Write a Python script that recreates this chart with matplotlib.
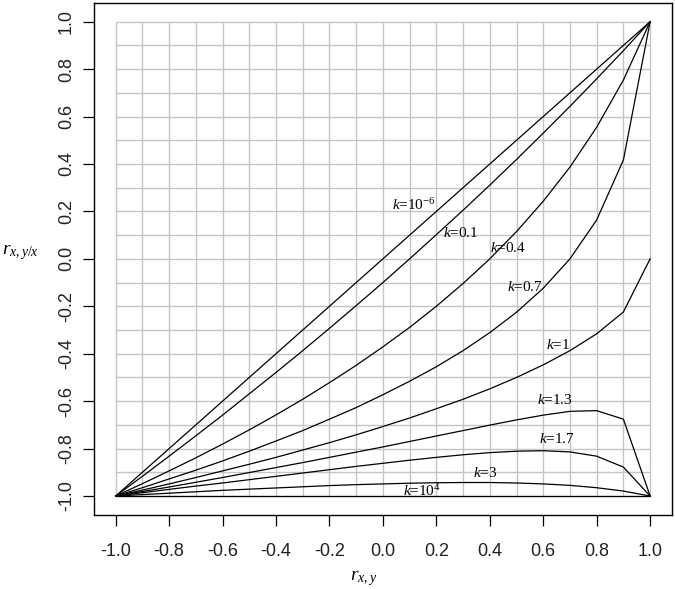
import numpy as np
import matplotlib
matplotlib.use("Agg")
import matplotlib.pyplot as plt

plt.rcParams['mathtext.fontset'] = 'custom'
plt.rcParams['mathtext.rm'] = 'Liberation Serif'
plt.rcParams['mathtext.it'] = 'Liberation Serif:italic'
plt.rcParams['mathtext.bf'] = 'Liberation Serif:bold'

# r_{x,y} sample points
r_xy = [-1.0, -0.9, -0.8, -0.7, -0.6, -0.5, -0.4, -0.3, -0.2, -0.1, 0.0,
        0.1, 0.2, 0.3, 0.4, 0.5, 0.6, 0.7, 0.8, 0.9, 1.0]

# r_{x,y/x} curves for each k
k_1e_6 = [-1.0, -0.9, -0.8, -0.7, -0.6, -0.5, -0.4, -0.3, -0.2, -0.1, 0.0,
          0.1, 0.2, 0.3, 0.4, 0.5, 0.6, 0.7, 0.8, 0.9, 1.0]
k_0_1 = [-1.0, -0.917, -0.832, -0.746, -0.659, -0.569, -0.479, -0.387, -0.293, -0.197, -0.100,
         0.0, 0.102, 0.205, 0.311, 0.419, 0.530, 0.643, 0.759, 0.878, 1.0]
k_0_4 = [-1.0, -0.948, -0.894, -0.839, -0.781, -0.721, -0.658, -0.592, -0.522, -0.449, -0.371,
         -0.289, -0.200, -0.104, 0.0, 0.115, 0.243, 0.387, 0.555, 0.754, 1.0]
k_0_7 = [-1.0, -0.965, -0.928, -0.891, -0.852, -0.811, -0.768, -0.724, -0.676, -0.627, -0.573,
         -0.516, -0.455, -0.387, -0.311, -0.225, -0.124, 0.0, 0.164, 0.417, 1.0]
k_1 = [-1.0, -0.975, -0.949, -0.922, -0.894, -0.866, -0.837, -0.806, -0.775, -0.742, -0.707,
       -0.671, -0.632, -0.592, -0.548, -0.500, -0.447, -0.387, -0.316, -0.224, 0.0]
k_1_3 = [-1.0, -0.981, -0.962, -0.942, -0.922, -0.901, -0.880, -0.859, -0.837, -0.815, -0.793,
         -0.770, -0.747, -0.724, -0.701, -0.679, -0.659, -0.643, -0.640, -0.676, -1.0]
k_1_7 = [-1.0, -0.986, -0.972, -0.958, -0.945, -0.931, -0.917, -0.903, -0.889, -0.875, -0.862,
         -0.849, -0.837, -0.826, -0.817, -0.811, -0.809, -0.814, -0.832, -0.878, -1.0]
k_3 = [-1.0, -0.994, -0.988, -0.982, -0.976, -0.971, -0.966, -0.961, -0.956, -0.952, -0.949,
       -0.946, -0.944, -0.943, -0.943, -0.945, -0.949, -0.955, -0.965, -0.979, -1.0]
k_1e4 = [-1.0] * 21

series = [k_1e_6, k_0_1, k_0_4, k_0_7, k_1, k_1_3, k_1_7, k_3, k_1e4]

curve_labels = ["$k$=10$^{-6}$", "$k$=0.1", "$k$=0.4", "$k$=0.7", "$k$=1",
                "$k$=1.3", "$k$=1.7", "$k$=3", "$k$=10$^{4}$"]
label_x = [0.033, 0.224, 0.400, 0.463, 0.612, 0.578, 0.586, 0.336, 0.075]
label_y = [0.228, 0.110, 0.047, -0.118, -0.362, -0.597, -0.761, -0.904, -0.980]

tick_vals = [-1.0, -0.8, -0.6, -0.4, -0.2, 0.0, 0.2, 0.4, 0.6, 0.8, 1.0]
tick_labels = ["-1.0", "-0.8", "-0.6", "-0.4", "-0.2", "0.0", "0.2", "0.4", "0.6", "0.8", "1.0"]

fig = plt.figure(figsize=(6.75, 5.89), dpi=100)
ax = fig.add_axes([94.3 / 675, 1 - 515 / 589, (671.5 - 94.3) / 675, (515 - 2.7) / 589])

grid = np.linspace(-1, 1, 21)
ax.vlines(grid, -1, 1, color='#c4c4c4', lw=1.0, zorder=1)
ax.hlines(grid, -1, 1, color='#c4c4c4', lw=1.0, zorder=1)

for s in series:
    ax.plot(r_xy, s, color='black', lw=0.9, zorder=3)

for t, x, y in zip(curve_labels, label_x, label_y):
    ax.text(x, y, t, ha='left', va='center', fontsize=11,
            family='Liberation Serif', zorder=4)

ax.set_xlim(-1.08, 1.08)
ax.set_ylim(-1.08, 1.08)
ax.set_xticks(tick_vals)
ax.set_xticklabels(tick_labels, fontsize=13, family='Liberation Sans', color='#222222')
ax.set_yticks(tick_vals)
ax.set_yticklabels(tick_labels, fontsize=13, family='Liberation Sans', color='#222222',
                   rotation=90, va='center')
ax.tick_params(direction='out', length=8, width=0.9, pad=12)
ax.tick_params(axis='y', pad=6)
for sp in ax.spines.values():
    sp.set_linewidth(1.0)

fig.text(364 / 675, 1 - 578 / 589, r'$r_{x,y}$', ha='center', va='center', fontsize=14)
fig.text(2 / 675, 1 - 253 / 589, r'$r_{x,y/x}$', ha='left', va='center', fontsize=14)

fig.savefig('out.png', dpi=100)
